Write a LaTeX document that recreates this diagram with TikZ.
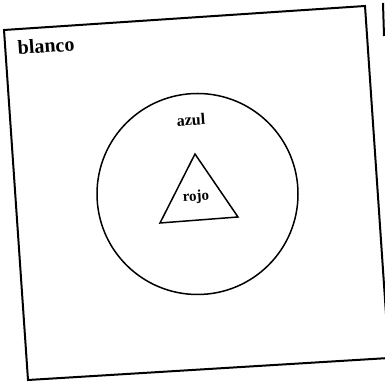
\documentclass[tikz,border=0pt]{standalone}
\usepackage{fontspec}
\setmainfont{Liberation Serif}
\begin{document}
\begin{tikzpicture}[x=1pt,y=1pt,
  frame/.style={line width=2pt,line join=miter},
  shapeline/.style={line width=1.5pt},
  lbl/.style={inner sep=0pt,rotate=3.8}]
\useasboundingbox (0,0) rectangle (385,382);
\clip (0,0) rectangle (385,382);
\coordinate (tl) at (4,352);
\coordinate (tr) at (365,376);
\coordinate (br) at (389,24);
\coordinate (bl) at (28,2);
\draw[frame] (tl) -- (tr) -- (br) -- (bl) -- cycle;
\coordinate (m1) at (383,379);
\coordinate (m2) at (384,346);
\draw[line width=2pt] (m1) -- (m2);
\coordinate (cc) at (197.5,188);
\draw[shapeline] (cc) circle (100.5);
\coordinate (t1) at (195,228);
\coordinate (t2) at (160,159);
\coordinate (t3) at (238,165);
\draw[shapeline,line join=miter] (t1) -- (t2) -- (t3) -- cycle;
\node[lbl,font=\fontsize{20}{24}\selectfont\bfseries] (blanco) at (46,336) {blanco};
\node[lbl,font=\fontsize{16}{19}\selectfont\bfseries] (azul) at (191,262) {azul};
\node[lbl,font=\fontsize{15}{18}\selectfont\bfseries] (rojo) at (196,185) {rojo};
\end{tikzpicture}
\end{document}
